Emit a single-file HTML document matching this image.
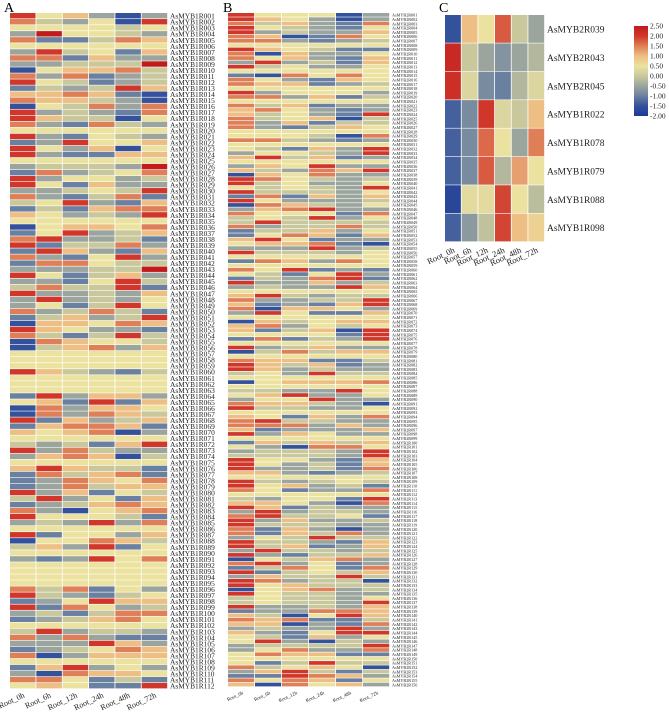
<!DOCTYPE html>
<html><head><meta charset="utf-8"><style>
html,body{margin:0;padding:0;background:#fff;}
svg{display:block;font-family:"Liberation Serif",serif;}
</style></head><body>
<svg id="chart" width="669" height="718" viewBox="0 0 669 718" xmlns="http://www.w3.org/2000/svg">
<rect width="669" height="718" fill="#fff"/>
<text x="4" y="12" font-size="14">A</text>
<text x="223" y="12" font-size="14">B</text>
<text x="439" y="12" font-size="14">C</text>
</svg>
<script>
const timepoints = ["Root_0h","Root_6h","Root_12h","Root_24h","Root_48h","Root_72h"];
// levels: 0=-2.0 ... 9=2.5 (step 0.5)
const aValues = [
[8,5,6,3,1,3],[7,4,3,5,1,8],[5,5,5,5,4,5],[3,9,5,5,4,3],[7,2,2,4,7,6],[5,5,5,5,5,5],[3,8,4,5,2,6],[7,7,2,6,3,3],[3,3,4,4,4,9],[1,5,6,6,7,4],
[7,3,7,2,3,4],[8,5,4,2,3,4],[2,4,3,4,8,6],[6,6,7,6,2,1],[7,6,6,4,3,1],[1,5,4,7,3,7],[8,3,4,3,2,7],[8,6,4,4,1,5],[7,3,2,7,4,3],[5,5,5,5,5,5],
[8,3,2,5,4,3],[2,3,8,5,5,6],[8,5,3,6,1,5],[8,3,2,2,6,6],[5,5,5,5,5,5],[3,4,4,4,3,9],[2,7,3,4,5,7],[8,3,5,5,3,4],[8,5,2,6,3,3],[3,3,4,5,4,8],
[7,3,2,4,7,2],[4,5,8,3,2,6],[2,4,2,6,7,7],[6,5,3,4,3,8],[5,5,5,5,5,5],[1,5,6,6,5,7],[2,5,8,3,4,6],[7,8,3,3,4,2],[8,2,4,4,7,3],[2,8,6,3,2,6],
[7,3,2,5,8,3],[2,7,7,5,4,4],[3,3,3,4,4,9],[8,5,2,4,6,3],[3,3,2,5,8,4],[4,7,4,4,8,2],[8,3,3,4,3,6],[3,8,3,4,3,5],[3,5,2,4,8,5],[7,3,4,7,4,2],
[2,4,6,3,4,8],[1,6,6,5,7,6],[8,6,5,3,3,2],[7,4,2,4,8,4],[1,7,6,5,5,4],[1,4,6,7,3,6],[5,5,5,5,5,5],[5,5,5,5,5,5],[5,5,5,5,5,5],[8,6,4,3,2,4],
[5,5,5,5,5,5],[5,5,5,5,5,5],[5,5,5,5,5,5],[2,8,3,6,6,3],[5,6,2,8,2,6],[1,7,3,6,6,5],[1,7,3,7,6,4],[8,2,6,3,4,6],[2,6,7,7,6,2],[6,5,6,7,1,3],
[5,5,5,5,5,5],[4,3,4,2,6,8],[8,3,7,4,3,3],[3,6,7,6,1,4],[5,5,5,5,5,5],[6,8,6,4,4,2],[2,7,4,6,7,2],[2,3,7,6,5,7],[2,3,7,4,6,6],[8,3,6,2,5,4],
[4,8,3,5,2,6],[2,3,4,6,7,6],[7,3,1,5,6,7],[8,5,5,5,4,2],[3,4,3,8,3,7],[5,5,5,5,5,5],[8,2,5,5,3,6],[1,5,5,7,6,4],[4,6,3,8,2,5],[5,5,5,5,5,5],
[3,2,3,8,5,7],[5,5,5,5,5,5],[5,5,5,5,5,5],[5,5,5,5,5,5],[5,5,5,5,5,5],[7,4,7,2,5,3],[8,4,3,2,4,5],[2,3,5,8,6,6],[8,2,7,5,3,4],[3,4,2,4,7,7],
[2,3,4,6,7,5],[5,5,5,5,5,5],[4,8,3,4,4,3],[7,3,7,3,2,2],[3,3,3,8,6,3],[2,3,4,5,7,6],[7,1,3,6,6,6],[5,5,5,5,5,5],[2,6,8,3,5,3],[3,1,7,6,6,5],
[7,7,5,2,4,2],[5,6,5,2,2,8]
];
const bValues = [
[8,5,5,5,1,3],[8,6,5,3,1,3],[7,4,6,3,2,7],[8,5,4,3,2,5],[8,3,4,3,3,6],[7,6,1,2,7,5],[7,7,3,2,3,4],[5,5,5,5,5,5],[8,6,5,4,2,2],[7,1,6,3,3,5],
[7,5,6,3,2,6],[3,8,3,4,2,6],[8,4,5,3,3,5],[5,5,5,5,5,5],[2,1,7,5,7,5],[7,5,3,2,6,5],[7,6,6,2,3,4],[5,5,5,5,5,5],[8,3,5,5,5,3],[7,7,3,6,2,4],
[5,5,5,5,5,5],[7,4,6,2,3,3],[6,7,5,3,2,3],[6,4,5,3,2,8],[7,4,5,6,1,4],[7,3,6,2,4,4],[7,3,2,4,6,5],[5,5,5,5,5,5],[5,5,5,4,1,7],[7,7,4,3,2,3],
[5,5,5,5,5,5],[5,4,2,6,3,8],[3,5,5,4,3,8],[6,8,4,6,2,3],[5,5,5,5,5,5],[3,6,5,8,3,3],[6,4,3,7,6,8],[1,6,5,7,3,3],[8,7,5,4,3,4],[8,4,5,3,3,5],
[5,4,5,4,3,8],[8,4,4,4,3,5],[2,7,2,6,3,6],[8,5,3,3,3,4],[1,7,6,4,3,5],[3,6,7,8,3,3],[7,5,5,5,2,7],[4,5,4,8,3,5],[4,8,4,4,4,4],[7,3,4,4,7,4],
[2,4,4,6,3,5],
[2,5,7,6,2,6],[6,8,5,2,3,3],[5,6,6,7,2,1],[3,3,3,8,3,4],[8,4,4,4,3,5],[5,5,5,5,5,5],[2,7,6,3,7,5],[5,5,5,5,5,5],[7,5,8,2,3,2],[5,4,2,5,8,3],
[2,4,3,7,8,2],[8,3,3,6,3,4],[3,4,3,3,8,6],[5,5,5,5,5,5],[6,8,4,3,4,4],[7,3,3,4,4,8],[6,2,3,2,6,8],[7,1,6,6,5,3],[3,8,5,2,2,6],[5,5,5,5,5,5],
[1,6,4,5,6,6],[6,7,3,5,4,5],[6,2,4,6,1,8],[5,5,5,5,2,8],[2,7,2,4,3,8],[5,5,5,5,5,5],[8,3,4,6,3,3],[1,4,7,4,6,6],[5,5,5,5,5,5],[7,6,6,2,2,4],
[8,6,4,6,2,3],[8,6,3,4,3,3],[4,5,3,8,4,4],[5,5,5,5,5,5],[1,5,6,6,6,7],[5,5,5,5,5,5],[4,4,3,3,8,5],[5,6,8,3,3,5],[3,5,5,8,3,3],[7,6,6,4,3,1],
[8,4,4,3,3,5],[5,5,5,5,5,5],[6,5,2,6,3,7],[7,8,4,4,3,3],[7,7,7,3,6,3],[6,2,3,3,3,6],[8,3,6,5,3,3],[5,5,5,5,5,5],[2,6,4,6,4,6],[5,3,1,7,7,5],
[3,4,4,4,3,8],[4,4,4,4,3,8],[8,5,5,3,2,6],
[8,5,3,4,2,6],[8,3,3,4,2,7],[6,6,3,2,3,4],[5,5,5,5,5,5],[8,4,3,4,5,4],[8,5,6,3,4,2],[7,5,2,3,3,7],[5,5,5,5,5,5],[4,3,5,5,2,8],[6,6,5,3,1,7],
[8,6,2,4,3,3],[3,8,3,4,4,3],[7,8,4,4,5,2],[8,3,6,3,3,4],[8,4,4,4,3,3],[7,2,6,3,1,3],[7,2,6,4,7,3],[3,5,4,8,4,4],[8,4,4,3,2,6],[8,4,6,2,3,6],
[3,8,4,4,3,4],[8,3,2,4,4,6],[1,5,4,6,7,3],[7,8,3,5,2,3],[2,4,7,5,2,7],[8,2,4,5,4,6],[3,6,4,4,8,4],[8,7,3,4,4,1],[8,5,6,4,4,4],[1,5,6,7,3,4],
[8,5,4,4,3,3],[4,5,4,4,3,5],[4,5,4,4,3,8],[8,3,3,4,3,6],[2,3,3,7,7,6],[6,4,1,5,8,6],[7,6,7,2,2,4],[6,6,1,3,2,7],[3,4,3,3,8,3],[6,3,2,5,8,8],
[5,4,2,6,3,5],[5,8,3,1,4,3],[3,4,4,4,4,8],[3,5,7,3,3,7],[5,7,6,6,2,2],[5,5,5,5,5,5],[5,2,4,8,4,4],[7,4,5,6,5,1],[3,6,8,4,2,4],[2,2,8,7,6,3],
[7,5,7,6,2,5],[6,1,7,5,6,3]
];
const cGenes = ["AsMYB2R039","AsMYB2R043","AsMYB2R045","AsMYB1R022","AsMYB1R078","AsMYB1R079","AsMYB1R088","AsMYB1R098"];
const cValues = [
[1,6,5,7.5,4,3],[8.5,4,3,2.5,3,3.5],[8.3,4.5,2.3,2,3.5,4.5],[1.3,2.3,8,4.5,4,6],
[1.3,2.3,7.3,5,3,7],[1.3,2.3,7.5,3.5,6.5,5],[0.5,4.7,4.7,7.8,5,3.7],[1.3,2.7,3.8,7.8,6,5.5]
];
const colorbarTicks = ["2.50","2.00","1.50","1.00","0.50","0.00","-0.50","-1.00","-1.50","-2.00"];

const NS="http://www.w3.org/2000/svg";
const svg=document.getElementById('chart');
const palette=["#1d3a96","#34529c","#6a80a0","#9ba59e","#c9c89d","#ece2a0","#edbf84","#df7f58","#d0372a","#c21b1b"];
function hex(h){return [1,3,5].map(i=>parseInt(h.substr(i,2),16));}
function color(v){
  v=Math.max(0,Math.min(9,v));
  const i=Math.min(8,Math.floor(v)),t=v-i;
  const a=hex(palette[i]),b=hex(palette[i+1]);
  return 'rgb('+a.map((c,k)=>Math.round(c+(b[k]-c)*t)).join(',')+')';
}
function mk(tag,attrs,parent){const e=document.createElementNS(NS,tag);for(const k in attrs)e.setAttribute(k,attrs[k]);(parent||svg).appendChild(e);return e;}

function heatmap(values,x0,x1,y0,y1,labelFn,labelSize,xlabSize,name,xlabY,rot){
  const g=mk('g',{});
  
  
  const nr=values.length,nc=timepoints.length;
  const cw=(x1-x0)/nc,rh=(y1-y0)/nr;
  const xs=j=>x0+j*cw, ys=i=>y0+i*rh;
  values.forEach((row,i)=>{
    row.forEach((v,j)=>{
      const r=mk('rect',{x:xs(j),y:ys(i),width:cw-0.8,height:Math.max(0.5,rh-0.6),fill:color(v)},g);
      
      
    });
    const t=mk('text',{x:x1+2,y:ys(i)+rh*0.5+labelSize*0.35,'font-size':labelSize,fill:'#222'},g);
    
    
    t.textContent=labelFn(i);
  });
  timepoints.forEach((tp,j)=>{
    const cx=xs(j)+cw/2+2, cy=xlabY;
    const t=mk('text',{x:cx,y:cy,'font-size':xlabSize,'text-anchor':'end',transform:'rotate('+rot+' '+cx+' '+cy+')',fill:'#222'},g);
    
    
    t.textContent=tp;
  });
}
const pad=n=>String(n).padStart(3,'0');
heatmap(aValues,10,168,13,689,i=>'AsMYB1R'+pad(i+1),7.4,8,'heatmap-a',697,-25);
heatmap(bValues,228,390,13,687,i=>'AsMYB2R'+pad(i+1),4.2,5,'heatmap-b',694,-25);
heatmap(cValues,445,545,15,242,i=>cGenes[i],9.5,8.5,'heatmap-c',252,-25);
// fix C label positions (more gap)
// colorbar
const defs=mk('defs',{});
const lg=mk('linearGradient',{id:'cbg',x1:0,y1:0,x2:0,y2:1},defs);
for(let k=9;k>=0;k--){mk('stop',{offset:((9-k)/9*100)+'%','stop-color':palette[k]},lg);}
const cb=mk('rect',{x:634,y:26,width:14,height:90,fill:'url(#cbg)'});


colorbarTicks.forEach((t,k)=>{
  const y=26+k*90/9;
  const tx=mk('text',{x:650,y:y+2.5,'font-size':7.5,fill:'#222'});
  
  
  tx.textContent=t;
});
</script>
</body></html>
